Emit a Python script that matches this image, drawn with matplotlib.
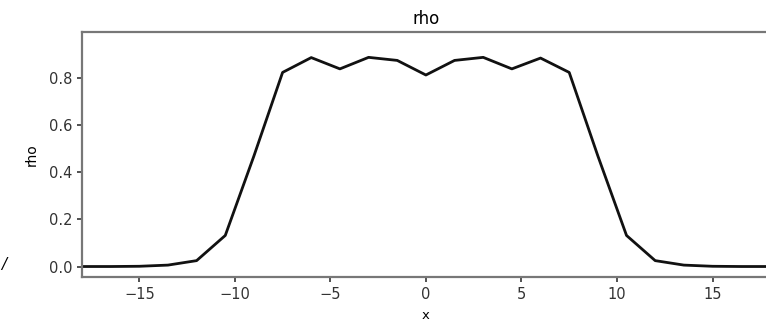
import numpy as np
import matplotlib
matplotlib.use('Agg')
import matplotlib.pyplot as plt

# grid positions and density
x = [-18, -16.5, -15, -13.5, -12, -10.5, -9, -7.5, -6, -4.5, -3, -1.5, 0,
     1.5, 3, 4.5, 6, 7.5, 9, 10.5, 12, 13.5, 15, 16.5, 18]
rho = [0.0, 0.0, 0.001, 0.006, 0.025, 0.132, 0.47, 0.825, 0.888, 0.84, 0.889, 0.876, 0.814,
       0.876, 0.889, 0.84, 0.886, 0.825, 0.47, 0.132, 0.025, 0.006, 0.001, 0.0, 0.0]
x_ticks = [-15, -10, -5, 0, 5, 10, 15]
y_ticks = [0.0, 0.2, 0.4, 0.6, 0.8]

fig = plt.figure(figsize=(7.66, 3.26), dpi=100)
# axes runs a little past the right edge, as in the reference crop
ax = fig.add_axes([0.107, 0.150, 0.898, 0.752])
ax.plot(x, rho, color='#111111', linewidth=2.0)
ax.set_xlim(-18, 18)
ax.set_ylim(-0.045, 0.997)
ax.set_xticks(x_ticks)
ax.set_yticks(y_ticks)
ax.set_xlabel('x', fontsize=9.5, labelpad=5)
ax.set_ylabel('rho', fontsize=10, labelpad=7)
ax.set_title('rho', fontsize=12, pad=6)
ax.tick_params(labelsize=10.5, colors='#333333', width=1.2)
for s in ax.spines.values():
    s.set_color('#777777')
    s.set_linewidth(1.6)

fig.text(0.001, 0.175, '/', fontsize=11, style='italic')

fig.savefig('out.png', dpi=100)
plt.close()
